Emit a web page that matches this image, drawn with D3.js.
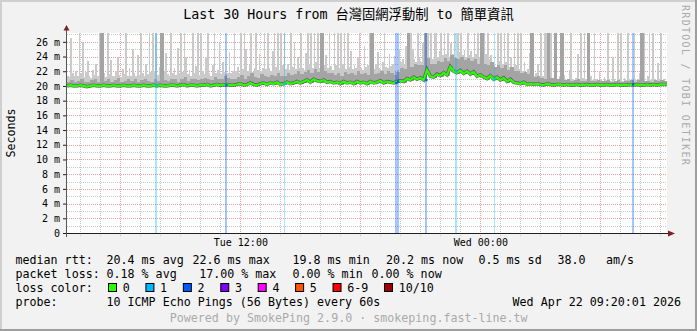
<!DOCTYPE html>
<html>
<head>
<meta charset="utf-8">
<script src="https://cdn.jsdelivr.net/npm/d3@7"></script>
<style>
  html, body { margin: 0; padding: 0; background: #f2f2f2; }
  svg { display: block; }
  text { font-family: "DejaVu Sans Mono", "Noto Sans CJK TC", monospace; }
</style>
</head>
<body>
<svg id="chart" width="697" height="331"></svg>
<script>
const title = "Last 30 Hours from 台灣固網浮動制 to 簡單資訊";
const timeStart = new Date(2026, 3, 21, 3, 20);
const timeEnd = new Date(2026, 3, 22, 9, 20);
const yTicks = [0, 2, 4, 6, 8, 10, 12, 14, 16, 18, 20, 22, 24, 26];
const xLabelTimes = [new Date(2026, 3, 21, 12, 0), new Date(2026, 3, 22, 0, 0)];

// median rtt (ms), one value every 10 minutes
const median = [
  20.0,20.1,20.0,20.0,20.1,20.0,19.9,20.0,20.1,20.0,
  20.0,20.1,20.0,20.0,20.1,20.0,20.0,20.1,20.0,20.0,
  20.1,20.0,20.0,20.1,20.0,20.0,20.1,20.0,20.1,20.0,
  20.0,20.1,20.1,20.0,20.1,20.2,20.0,20.1,20.1,20.0,
  20.1,20.1,20.2,20.0,20.1,20.2,20.1,20.1,20.2,20.1,
  20.1,20.2,20.3,20.1,20.2,20.4,20.2,20.1,20.3,20.4,
  20.2,20.4,20.3,20.5,20.2,20.3,20.5,20.3,20.4,20.6,
  20.4,20.6,20.8,20.5,20.9,20.7,20.6,20.8,20.5,20.6,
  20.4,20.5,20.3,20.6,20.4,20.5,20.3,20.6,20.4,20.5,
  20.3,20.6,20.4,20.5,20.7,20.4,20.6,20.5,20.4,20.6,
  20.7,20.6,21.0,20.8,21.2,20.9,21.1,20.8,22.2,21.3,
  21.2,21.6,21.4,21.8,21.5,22.6,22.0,21.8,22.1,21.7,
  22.0,21.6,21.9,21.3,21.5,21.2,21.0,21.4,20.9,21.2,
  20.8,21.1,20.6,20.9,20.5,20.4,20.3,20.5,20.2,20.3,
  20.2,20.3,20.2,20.1,20.3,20.2,20.1,20.2,20.2,20.1,
  20.2,20.1,20.1,20.2,20.1,20.1,20.2,20.1,20.1,20.2,
  20.1,20.1,20.2,20.1,20.1,20.2,20.1,20.1,20.1,20.2,
  20.1,20.2,20.1,20.1,20.2,20.1,20.2,20.1,20.2,20.2
];

// upper smoke band (9th of 10 pings, ms), every 10 minutes
const smokeMid = [
  20.6,20.8,20.5,20.7,21.0,20.6,20.5,20.8,20.9,20.6,
  28,20.7,20.9,20.6,20.8,21.1,20.6,20.7,20.9,20.7,
  20.9,20.6,20.8,21.0,20.7,20.6,20.9,20.7,28,20.8,
  20.7,21.0,20.9,20.6,21.0,21.2,20.7,20.9,21.0,20.8,
  20.9,21.1,21.0,20.8,21.2,21.0,20.9,21.3,21.1,20.9,
  21.0,21.2,21.5,21.0,21.3,21.7,21.2,21.1,21.6,21.4,
  21.2,21.5,21.3,21.7,21.3,21.4,21.8,21.5,21.6,22.0,
  21.6,21.9,22.2,21.7,22.3,21.9,28,22.1,21.7,21.8,
  21.5,21.7,21.4,21.9,21.6,21.7,21.5,22.0,21.6,21.8,
  21.5,28,21.6,21.7,22.1,21.6,22.0,21.7,21.5,21.9,
  22.4,22.3,28,22.6,23.0,22.8,22.9,28,23.8,23.0,
  23.0,23.4,23.2,23.8,23.4,24.2,23.8,23.6,24.0,23.5,
  23.8,23.4,23.7,23.0,28,23.0,22.8,23.2,22.6,22.9,
  22.4,22.8,22.2,22.6,22.0,22.0,21.8,21.9,21.6,28,
  21.2,21.3,21.1,21.0,28,21.1,28,21.0,28,20.8,
  20.9,20.7,20.8,20.9,20.7,20.7,28,20.7,20.7,20.8,
  20.7,20.7,20.8,20.6,20.7,20.8,20.6,20.7,20.7,20.8,
  20.6,20.8,28,20.7,20.7,20.6,20.8,20.7,20.8,20.7
];

// highest ping (ms), every 5 minutes
const smokeMax = [
  21.4,21.2,26.5,21.8,21.3,22.0,21.4,28,21.7,26,21.2,21.9,23.4,21.4,21.1,22.2,21.5,23.0,21.3,28,
  28,28,21.8,21.2,28,21.6,23.5,21.4,21.3,22.0,24.0,21.5,21.2,22.3,21.6,28,21.4,22.5,21.3,25,
  21.7,21.4,24.2,21.5,28,21.8,21.3,23.0,21.6,28,21.9,28,22.1,28,21.5,22.6,28,21.4,22.0,24.5,
  21.6,21.3,28,21.8,22.4,21.5,25.2,21.7,28,21.9,28,24,21.6,22.2,21.4,28,21.8,22.7,28,21.5,
  28,22.0,21.6,24.0,28,21.8,21.4,22.9,28,21.7,22.2,26,21.6,23.2,21.9,21.6,21.8,24.6,21.7,22.1,
  28,22.0,22.6,21.8,28,22.3,28,25,22.0,22.8,28,21.9,22.4,28,22.2,24.3,22.0,22.5,28,22.3,
  28,22.4,22.0,24.8,28,22.6,28,22.2,28,22.9,28,22.3,23.0,22.2,28,22.6,26,22.3,24.0,22.5,
  28,22.4,22.2,24.5,28,22.8,28,22.4,28,23.2,28,22.5,28,22.3,22.9,24.2,22.4,28,22.7,22.2,
  28,22.8,28,22.4,28,23.0,28,22.3,28,22.6,24.8,22.3,22.9,22.4,24.0,28,22.5,22.2,25.5,22.6,
  22.8,28,22.4,28,22.3,23.0,24.6,22.5,22.2,23.3,28,22.6,22.4,24.4,22.7,23.0,24.1,21.9,22.2,25.0,
  23.2,23.6,23.0,25.5,28,23.4,28,25,23.6,23.3,28,23.8,23.2,25.8,23.4,22.6,28,23.9,28,23.6,
  28,28,24.0,24.8,28,24.2,28,24.4,28,24.0,25.8,24.3,28,23.4,28,24.6,28,24.2,24.9,24.0,
  28,24.2,24.8,23.9,28,24.3,28,24.0,28,23.8,28,24.4,28,23.6,24.2,23.3,22.9,22.6,28,23.4,
  28,23.0,28,23.2,28,22.6,24.0,22.4,28,22.8,28,22.3,28,22.0,23.2,21.8,22.3,24.5,28,21.7,
  21.3,21.7,23.0,21.1,28,21.4,28,28,21.3,21.0,28,21.1,20.9,23.2,21.0,21.3,28,20.9,21.5,20.8,
  21.0,22.2,28,20.9,20.7,21.1,24.4,20.8,28,21.1,28,20.9,28,20.7,21.4,20.8,28,21.0,20.7,22.1,
  20.9,20.7,21.2,20.8,28,21.0,20.7,23.9,20.9,20.6,28,21.0,28,20.7,21.1,20.8,28,20.9,20.7,20.6,
  28,20.8,21.0,21.7,28,20.9,28,20.7,21.3,28,20.8,28,20.9,20.7,23.1,21.0,28,20.8,21.0,20.7
];

// packet loss events: 5-minute slot and number of lost pings (of 10)
const lossSlots = [53, 95, 130, 197, 198, 215, 233, 256, 339];
const lossCounts = [1, 2, 1, 2, 2, 2, 1, 1, 2];

const lossLabels = ['0', '1', '2', '3', '4', '5', '6-9', '10/10'];
const lossColors = ['#26ff00', '#00b8ff', '#0059ff', '#7e00ff', '#ff00ff', '#ff5500', '#ff0000', '#a10000'];
const rttStats = ['20.4 ms avg', '22.6 ms max', '19.8 ms min', '20.2 ms now', '0.5 ms sd', '38.0', 'am/s'];
const lossStats = ['0.18 % avg', '17.00 % max', '0.00 % min', '0.00 % now'];
const probe = '10 ICMP Echo Pings (56 Bytes) every 60s';
const stamp = 'Wed Apr 22 09:20:01 2026';
const footer = 'Powered by SmokePing 2.9.0 · smokeping.fast-line.tw';

const svg = d3.select('#chart');
const W = 697, H = 331;
const plot = {left: 67, top: 33, width: 600, height: 200};

const x = d3.scaleTime().domain([timeStart, timeEnd]).range([plot.left, plot.left + plot.width]);
const y = d3.scaleLinear().domain([0, 27.2]).range([plot.top + plot.height, plot.top]);

const slot5 = i => d3.timeMinute.offset(timeStart, i * 5);
const slot10 = i => d3.timeMinute.offset(timeStart, i * 10);
const lossColor = n => lossColors[n >= 10 ? 7 : n >= 6 ? 6 : n];

// background and frame shading
svg.append('rect').attr('width', W).attr('height', H).attr('fill', '#f2f2f2');
svg.append('path').attr('d', `M0,1H${W} M1,0V${H}`).attr('stroke', '#cfcfcf').attr('stroke-width', 2);
svg.append('path').attr('d', `M0,${H - 1}H${W} M${W - 1},0V${H}`).attr('stroke', '#9e9e9e').attr('stroke-width', 2);

svg.append('rect')
  .attr('x', plot.left).attr('y', plot.top)
  .attr('width', plot.width).attr('height', plot.height)
  .attr('fill', '#ffffff');

svg.append('clipPath').attr('id', 'clip')
  .append('rect')
  .attr('x', plot.left).attr('y', plot.top)
  .attr('width', plot.width).attr('height', plot.height);

// grid
const grid = svg.append('g').attr('shape-rendering', 'crispEdges').attr('stroke-dasharray', '1,1');
const hourTicks = d3.timeHour.range(d3.timeHour.ceil(timeStart), timeEnd);
grid.selectAll('line.v').data(hourTicks).join('line')
  .attr('x1', d => Math.round(x(d)) + 0.5).attr('x2', d => Math.round(x(d)) + 0.5)
  .attr('y1', plot.top).attr('y2', plot.top + plot.height + 3)
  .attr('stroke', d => d.getHours() % 6 === 0 ? '#e5a0a0' : '#c8c8c8');
const msLines = d3.range(1, 28);
grid.selectAll('line.h').data(msLines).join('line')
  .attr('x1', plot.left).attr('x2', plot.left + plot.width)
  .attr('y1', d => Math.round(y(d)) + 0.5).attr('y2', d => Math.round(y(d)) + 0.5)
  .attr('stroke', d => d % 2 === 0 ? '#e5a0a0' : '#c8c8c8');

// smoke
const smoke = svg.append('g').attr('clip-path', 'url(#clip)').attr('shape-rendering', 'crispEdges');
smoke.selectAll('rect.max').data(smokeMax).join('rect')
  .attr('x', (d, i) => x(slot5(i)))
  .attr('width', (d, i) => x(slot5(i + 1)) - x(slot5(i)))
  .attr('y', d => y(d))
  .attr('height', (d, i) => Math.max(0, y(median[Math.floor(i / 2)]) - y(d) + 1))
  .attr('fill', '#cacaca');
smoke.selectAll('rect.mid').data(smokeMid).join('rect')
  .attr('x', (d, i) => x(slot10(i)))
  .attr('width', (d, i) => x(slot10(i + 1)) - x(slot10(i)))
  .attr('y', d => y(d))
  .attr('height', (d, i) => Math.max(0, y(median[i]) - y(d) + 1))
  .attr('fill', '#a4a4a4');

// loss bars
smoke.selectAll('rect.loss').data(lossSlots).join('rect')
  .attr('x', d => x(slot5(d)))
  .attr('width', d => Math.max(1.5, x(slot5(d + 1)) - x(slot5(d))))
  .attr('y', plot.top).attr('height', plot.height)
  .attr('fill', (d, i) => lossColor(lossCounts[i]))
  .attr('fill-opacity', 0.35);

// median line
const medPts = median.map((v, i) => [slot10(i), v]);
medPts.push([timeEnd, median[median.length - 1]]);
const medLine = d3.line().x(d => x(d[0])).y(d => y(d[1]));
svg.append('path').datum(medPts).attr('d', medLine)
  .attr('fill', 'none').attr('stroke', '#3a3a3a').attr('stroke-opacity', 0.7).attr('stroke-width', 3.5);
svg.append('path').datum(medPts).attr('d', medLine)
  .attr('fill', 'none').attr('stroke', lossColors[0]).attr('stroke-width', 2.2);
svg.selectAll('line.lossmed').data(lossSlots).join('line')
  .attr('x1', d => x(slot5(d))).attr('x2', d => x(slot5(d + 1)) + 0.5)
  .attr('y1', d => y(median[Math.floor(d / 2)])).attr('y2', d => y(median[Math.floor(d / 2)]))
  .attr('stroke', (d, i) => lossColor(lossCounts[i])).attr('stroke-width', 2.5);

// axes
const axisFont = g => g.attr('font-family', '"DejaVu Sans Mono", monospace').attr('font-size', 10);
svg.append('g')
  .attr('transform', `translate(${plot.left},0)`)
  .call(d3.axisLeft(y).tickValues(yTicks).tickFormat(d => d ? d + ' m' : '0').tickSize(4).tickPadding(3))
  .call(axisFont)
  .call(g => g.select('.domain').remove())
  .call(g => g.selectAll('.tick line').attr('stroke', '#1f1f1f'))
  .call(g => g.selectAll('.tick text').attr('fill', '#000'));

svg.append('g')
  .attr('transform', `translate(0,${plot.top + plot.height})`)
  .call(d3.axisBottom(x).tickValues(xLabelTimes).tickFormat(d3.timeFormat('%a %H:%M')).tickSize(0).tickPadding(6))
  .call(axisFont)
  .call(g => g.select('.domain').remove())
  .call(g => g.selectAll('.tick text').attr('fill', '#000'));

svg.append('line')
  .attr('x1', 63).attr('x2', 669).attr('y1', 233.5).attr('y2', 233.5)
  .attr('stroke', '#1f1f1f');
svg.append('line')
  .attr('x1', 66.5).attr('x2', 66.5).attr('y1', 237).attr('y2', 30)
  .attr('stroke', '#555');
svg.append('path').attr('d', 'M668,230.5L675,233.5L668,236.5Z').attr('fill', '#7f1f1f');
svg.append('path').attr('d', 'M63.5,30.5L66.5,25L69.5,30.5Z').attr('fill', '#7f1f1f');

// titles
svg.append('text').attr('x', 348.5).attr('y', 19)
  .attr('text-anchor', 'middle').attr('font-size', 13.3).text(title);
svg.append('text').attr('transform', 'translate(14.5,133) rotate(-90)')
  .attr('text-anchor', 'middle').attr('font-size', 11.67).text('Seconds');
svg.append('text').attr('transform', 'translate(681.5,5) rotate(90)')
  .attr('font-size', 10).attr('letter-spacing', 1.3).attr('fill', '#aaaaaa')
  .text('RRDTOOL / TOBI OETIKER');

// legend
const legend = svg.append('g').attr('font-size', 11.67).attr('fill', '#000').attr('xml:space', 'preserve');
const rowY = [263.5, 277.5, 291.5, 305.5];
legend.append('text').attr('x', 15.5).attr('y', rowY[0]).text('median rtt:');
const rttX = [106.5, 192.5, 292.5, 386, 478.5, 557.5, 606];
rttStats.forEach((s, i) => legend.append('text').attr('x', rttX[i]).attr('y', rowY[0]).text(s));

legend.append('text').attr('x', 15.5).attr('y', rowY[1]).text('packet loss:');
const lossX = [106.5, 199.2, 292.5, 371.5];
lossStats.forEach((s, i) => legend.append('text').attr('x', lossX[i]).attr('y', rowY[1]).text(s));

legend.append('text').attr('x', 15.5).attr('y', rowY[2]).text('loss color:');
let lx = 108.5;
lossLabels.forEach((lab, i) => {
  legend.append('rect')
    .attr('x', lx).attr('y', 283.5).attr('width', 8).attr('height', 8)
    .attr('fill', lossColors[i]).attr('stroke', '#000').attr('stroke-width', 1);
  legend.append('text').attr('x', lx + 14.2).attr('y', rowY[2]).text(lab);
  lx += 30.4 + 7.02 * lab.length;
});

legend.append('text').attr('x', 15.5).attr('y', rowY[3]).text('probe:');
legend.append('text').attr('x', 106.5).attr('y', rowY[3]).text(probe);
legend.append('text').attr('x', 681).attr('y', rowY[3]).attr('text-anchor', 'end').text(stamp);

svg.append('text').attr('x', 348.7).attr('y', 321.5).attr('text-anchor', 'middle')
  .attr('font-size', 11.67).attr('fill', '#aaaaaa').text(footer);
</script>
</body>
</html>
